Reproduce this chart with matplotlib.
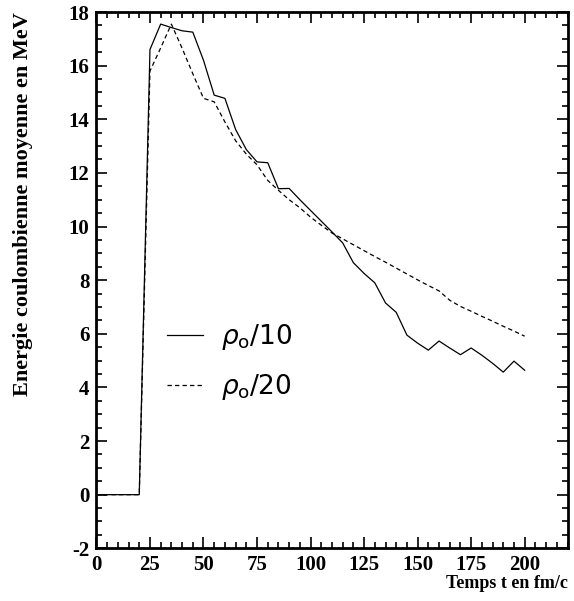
import matplotlib
matplotlib.use("Agg")
import matplotlib.pyplot as plt
from matplotlib.ticker import MultipleLocator
import numpy as np

# temps (fm/c) et energie coulombienne moyenne (MeV)
temps = [0, 5, 10, 15, 20, 25, 30, 35, 40, 45, 50, 55, 60, 65, 70, 75, 80,
         85, 90, 95, 100, 105, 110, 115, 120, 125, 130, 135, 140, 145, 150,
         155, 160, 165, 170, 175, 180, 185, 190, 195, 200]
e_rho10 = [0, 0, 0, 0, 0, 16.6, 17.55, 17.42, 17.3, 17.25, 16.2, 14.9, 14.78,
           13.62, 12.87, 12.41, 12.38, 11.41, 11.42, 11.0, 10.6, 10.2, 9.8,
           9.39, 8.65, 8.25, 7.9, 7.15, 6.8, 5.95, 5.65, 5.39, 5.73, 5.47,
           5.22, 5.47, 5.2, 4.9, 4.57, 4.98, 4.64]
e_rho20 = [0, 0, 0, 0, 0, 15.8, 16.66, 17.55, 16.65, 15.7, 14.78, 14.65, 13.9,
           13.2, 12.7, 12.3, 11.72, 11.35, 11.0, 10.7, 10.35, 10.05, 9.76,
           9.54, 9.32, 9.1, 8.88, 8.67, 8.45, 8.23, 8.01, 7.8, 7.6, 7.25,
           7.02, 6.84, 6.65, 6.47, 6.28, 6.1, 5.91]
labels = [r"$\rho_{\mathrm{o}}$/10", r"$\rho_{\mathrm{o}}$/20"]

plt.rcParams["mathtext.fontset"] = "dejavusans"
plt.rcParams["axes.unicode_minus"] = False
serif = {"family": "Liberation Serif", "weight": "bold"}

fig = plt.figure(figsize=(5.74, 6.01), dpi=100)
ax = fig.add_axes([0.168, 0.0877, 0.8207, 0.8923])

ax.plot(temps, e_rho10, "-", color="black", lw=0.9, label=labels[0])
ax.plot(temps, e_rho20, "--", color="black", lw=0.9, dashes=(3.5, 2.5),
        label=labels[1])

ax.set_xlim(0, 220)
ax.set_ylim(-2, 18)
ax.xaxis.set_major_locator(MultipleLocator(25))
ax.xaxis.set_minor_locator(MultipleLocator(5))
ax.yaxis.set_major_locator(MultipleLocator(2))
ax.yaxis.set_minor_locator(MultipleLocator(0.5))
ax.set_xticks(np.arange(0, 201, 25))
ax.tick_params(which="both", direction="in", top=True, right=True, width=1.2)
ax.tick_params(which="major", length=8, pad=5)
ax.tick_params(which="minor", length=4.5)
for s in ax.spines.values():
    s.set_linewidth(2)
for lab in ax.get_xticklabels() + ax.get_yticklabels():
    lab.set_fontfamily(serif["family"])
    lab.set_fontweight("bold")
    lab.set_fontsize(15)

ax.set_xlabel("Temps t en fm/c", fontdict=serif, fontsize=13, loc="right",
              labelpad=0)
ax.set_ylabel("Energie coulombienne moyenne en MeV", fontdict=serif,
              fontsize=16, loc="top", labelpad=26)

ax.legend(loc="upper left", bbox_to_anchor=(0.10, 0.466), frameon=False,
          fontsize=19, handlelength=1.35, handletextpad=0.7,
          labelspacing=0.75)

plt.savefig("out.png", dpi=100)
